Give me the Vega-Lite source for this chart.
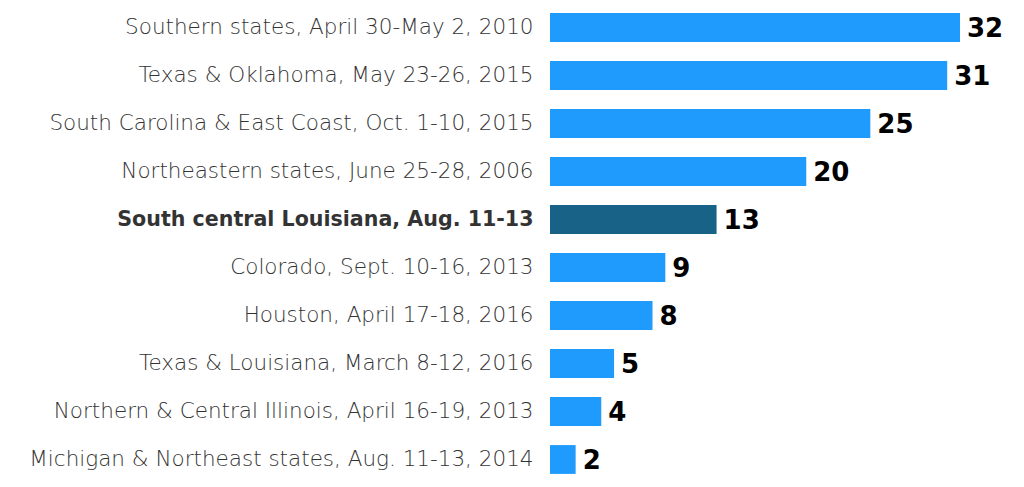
{
  "$schema": "https://vega.github.io/schema/vega-lite/v6.json",
  "autosize": "none",
  "width": 410,
  "height": 480,
  "padding": {"left": 550, "top": 3.5, "right": 64, "bottom": 3.5},
  "background": "white",
  "config": {"view": {"stroke": null}},
  "data": {
    "values": [
      {"event": "Southern states, April 30-May 2, 2010", "value": 32, "highlight": false},
      {"event": "Texas & Oklahoma, May 23-26, 2015", "value": 31, "highlight": false},
      {"event": "South Carolina & East Coast, Oct. 1-10, 2015", "value": 25, "highlight": false},
      {"event": "Northeastern states, June 25-28, 2006", "value": 20, "highlight": false},
      {"event": "South central Louisiana, Aug. 11-13", "value": 13, "highlight": true},
      {"event": "Colorado, Sept. 10-16, 2013", "value": 9, "highlight": false},
      {"event": "Houston, April 17-18, 2016", "value": 8, "highlight": false},
      {"event": "Texas & Louisiana, March 8-12, 2016", "value": 5, "highlight": false},
      {"event": "Northern & Central Illinois, April 16-19, 2013", "value": 4, "highlight": false},
      {"event": "Michigan & Northeast states, Aug. 11-13, 2014", "value": 2, "highlight": false}
    ]
  },
  "encoding": {
    "y": {
      "field": "event",
      "type": "nominal",
      "sort": null,
      "scale": {"paddingInner": 0.4, "paddingOuter": 0.2},
      "axis": {
        "title": null,
        "domain": false,
        "ticks": false,
        "labelPadding": 17,
        "labelFont": "DejaVu Sans",
        "labelFontSize": {"condition": {"test": "datum.value === 'South central Louisiana, Aug. 11-13'", "value": 20.6}, "value": 21.5},
        "labelColor": {"condition": {"test": "datum.value === 'South central Louisiana, Aug. 11-13'", "value": "#333333"}, "value": "#333333"},
        "labelLimit": 600,
        "labelFontWeight": {"condition": {"test": "datum.value === 'South central Louisiana, Aug. 11-13'", "value": "bold"}, "value": 200}
      }
    },
    "x": {
      "field": "value",
      "type": "quantitative",
      "scale": {"domain": [0, 32], "nice": false},
      "axis": null
    }
  },
  "layer": [
    {
      "mark": {"type": "bar"},
      "encoding": {
        "color": {
          "field": "highlight",
          "type": "nominal",
          "scale": {"domain": [false, true], "range": ["#1e9bfc", "#176286"]},
          "legend": null
        }
      }
    },
    {
      "mark": {"type": "text", "align": "left", "baseline": "middle", "dx": 7, "dy": 1, "font": "DejaVu Sans", "fontSize": 26, "fontWeight": "bold", "color": "#000000"},
      "encoding": {"text": {"field": "value", "type": "quantitative"}}
    }
  ]
}
